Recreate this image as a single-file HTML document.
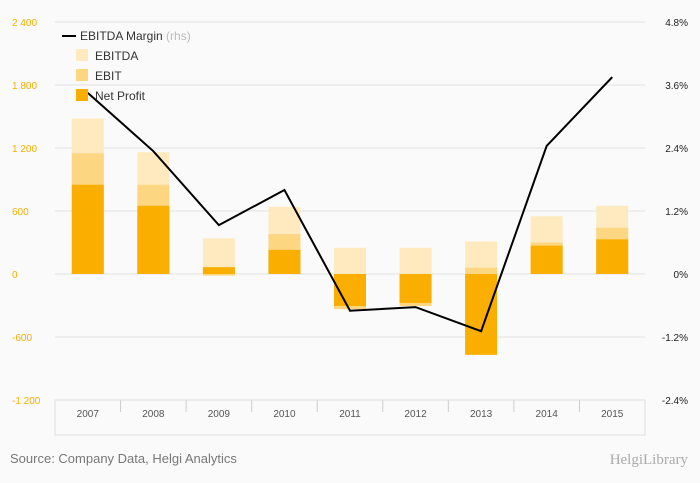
<!DOCTYPE html>
<html><head><meta charset="utf-8"><style>
body{margin:0;background:#fafafa;font-family:"Liberation Sans",sans-serif;}
svg{display:block}
</style></head><body>
<svg id="chart" width="700" height="483" viewBox="0 0 700 483" xmlns="http://www.w3.org/2000/svg">
<rect x="0" y="0" width="700" height="483" fill="#fafafa"/>
<g id="grid"></g><g id="bars"></g><g id="line"></g><g id="axes"></g>
<g id="legend" font-size="12" fill="#333">
<line x1="62" y1="36" x2="76" y2="36" stroke="#000" stroke-width="2"/>
<text x="80" y="40">EBITDA Margin <tspan fill="#bbb">(rhs)</tspan></text>
<rect x="76" y="49" width="12" height="12" fill="#feeabe"/>
<text x="95" y="60">EBITDA</text>
<rect x="76" y="69" width="12" height="12" fill="#fdd682"/>
<text x="95" y="80">EBIT</text>
<rect x="76" y="89" width="12" height="12" fill="#f9ae00"/>
<text x="95" y="100">Net Profit</text>
</g>
<text x="10" y="463" font-size="13" fill="#777">Source: Company Data, Helgi Analytics</text>
<text x="688" y="464" font-size="15" fill="#aaa" text-anchor="end" font-family="Liberation Serif,serif">HelgiLibrary</text>
</svg>
<script>
const categories=["2007","2008","2009","2010","2011","2012","2013","2014","2015"];
const ebitda=[1480,1160,340,640,250,250,310,550,650];
const ebit=[1150,850,-15,380,-335,-305,60,300,440];
const netProfit=[850,650,65,230,-305,-275,-770,270,330];
const margin=[3.45,2.34,0.93,1.6,-0.7,-0.63,-1.09,2.44,3.75];
const leftTicks=[2400,1800,1200,600,0,-600,-1200];
const leftLabels=["2 400","1 800","1 200","600","0","-600","-1 200"];
const rightTicks=[4.8,3.6,2.4,1.2,0,-1.2,-2.4];
const rightLabels=["4.8%","3.6%","2.4%","1.2%","0%","-1.2%","-2.4%"];
const NS="http://www.w3.org/2000/svg";
const X0=55,X1=645,Y0=22,Y1=400;
const yL=v=>Y0+(2400-v)/3600*(Y1-Y0);
const yR=v=>Y0+(4.8-v)/7.2*(Y1-Y0);
const band=(X1-X0)/categories.length;
const xC=i=>X0+band*(i+0.5);
function mk(tag,attrs,parent){const e=document.createElementNS(NS,tag);for(const k in attrs)e.setAttribute(k,attrs[k]);document.getElementById(parent).appendChild(e);return e;}
leftTicks.forEach((t,i)=>{
 const l=mk('line',{x1:X0,x2:X1,y1:yL(t),y2:yL(t),stroke:'#e3e3e3','stroke-width':1},'grid');
 
 
 const a=mk('text',{x:12,y:yL(t)+4,'font-size':10,fill:'#f9ae00'},'axes');a.textContent=leftLabels[i];
 
 
});
rightTicks.forEach((t,i)=>{
 const a=mk('text',{x:688,y:yR(t)+4,'font-size':10,fill:'#222','text-anchor':'end'},'axes');a.textContent=rightLabels[i];
 
 
});
const bw=32;
function bar(i,v,color,name){
 const y=Math.min(yL(v),yL(0)),h=Math.abs(yL(v)-yL(0));
 const r=mk('rect',{x:xC(i)-bw/2,y:y,width:bw,height:h,fill:color},'bars');
 
 
}
categories.forEach((c,i)=>{
 bar(i,ebitda[i],'#feeabe','bar-ebitda-'+c);
 bar(i,ebit[i],'#fdd682','bar-ebit-'+c);
 bar(i,netProfit[i],'#f9ae00','bar-net-profit-'+c);
 const t=mk('text',{x:xC(i),y:417,'font-size':10,fill:'#555','text-anchor':'middle'},'axes');t.textContent=c;
 
 
 if(i>0){const tk=mk('line',{x1:X0+band*i,x2:X0+band*i,y1:Y1,y2:Y1+12,stroke:'#ccc'},'axes');
 
 }
});
const ax=mk('rect',{x:X0,y:Y1,width:X1-X0,height:35,fill:'none',stroke:'#ddd'},'axes');


const p=mk('polyline',{points:margin.map((m,i)=>xC(i)+','+yR(m)).join(' '),fill:'none',stroke:'#000','stroke-width':2,'stroke-linejoin':'miter'},'line');


</script>
</body></html>
